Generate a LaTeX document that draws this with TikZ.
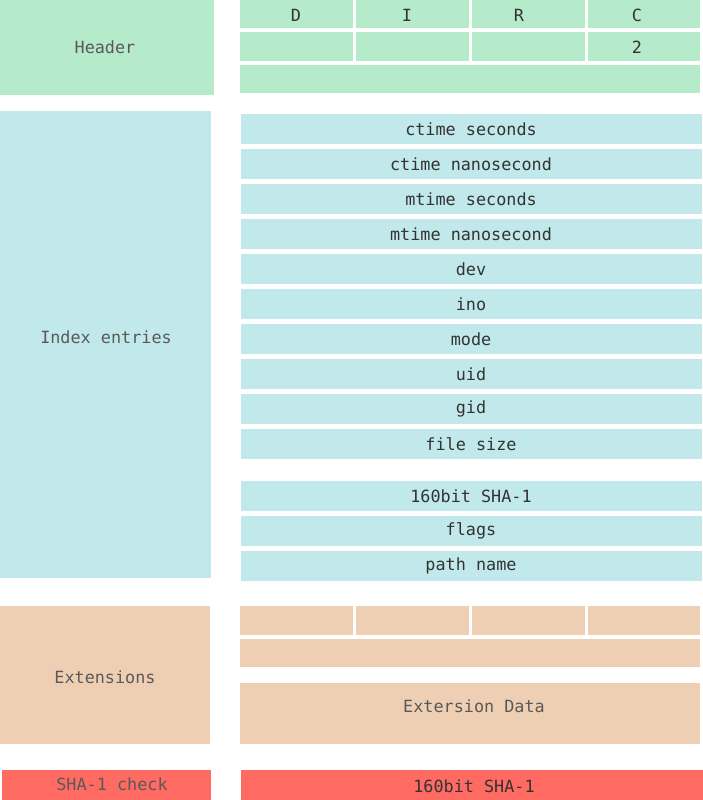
\documentclass[tikz,border=0pt]{standalone}
\usepackage{fontspec}
\setmonofont{DejaVu Sans Mono}
\begin{document}
\begin{tikzpicture}[x=1pt,y=-1pt,
  cell/.style={inner sep=0pt,font=\ttfamily\fontsize{16.8}{18}\selectfont,text=black!80},
  lab/.style={inner sep=0pt,font=\ttfamily\fontsize{16.8}{18}\selectfont,text=black!65}]
\definecolor{hg}{HTML}{B5EACB}
\definecolor{ib}{HTML}{C1E9EC}
\definecolor{eo}{HTML}{EFCFB3}
\definecolor{sr}{HTML}{FF6B63}
\useasboundingbox (0,0) rectangle (703,800);
% header
\fill[hg] (0,0) rectangle (214,95); \node[lab] (hdr) at (105,47) {Header};
\foreach \a/\b/\x/\t [count=\i] in {240/353/296/D,356/469/407/I,472/585/519/R,588/700/637/C}{
  \fill[hg] (\a,0) rectangle (\b,28); \node[cell] (h\i) at (\x,15) {\t};
  \fill[hg] (\a,32) rectangle (\b,61);}
\node[cell] (two) at (637,47) {2};
\fill[hg] (240,65) rectangle (700,93);
% index
\fill[ib] (0,111) rectangle (211,578); \node[lab] (idx) at (106,337) {Index entries};
\foreach \y/\t [count=\i] in {114/ctime seconds,149/ctime nanosecond,184/mtime seconds,219/mtime nanosecond,254/dev,289/ino,324/mode,359/uid,394/gid,429/file size,481/160bit SHA-1,516/flags,551/path name}{
  \fill[ib] (241,\y) rectangle (702,\y+30); \node[cell] (r\i) at (471,\y+15) {\t};}
% extensions
\fill[eo] (0,606) rectangle (210,744); \node[lab] (ext) at (105,677) {Extensions};
\foreach \a/\b in {240/353,356/469,472/585,588/700}{\fill[eo] (\a,606) rectangle (\b,635);}
\fill[eo] (240,639) rectangle (700,667);
\fill[eo] (240,683) rectangle (700,744); \node[lab] (extd) at (474,706) {Extersion Data};
% sha
\fill[sr] (2,770) rectangle (211,800); \node[lab] (sha) at (112,784) {SHA-1 check};
\fill[sr] (241,770) rectangle (703,800); \node[cell] (shar) at (474,786) {160bit SHA-1};
\end{tikzpicture}
\end{document}
